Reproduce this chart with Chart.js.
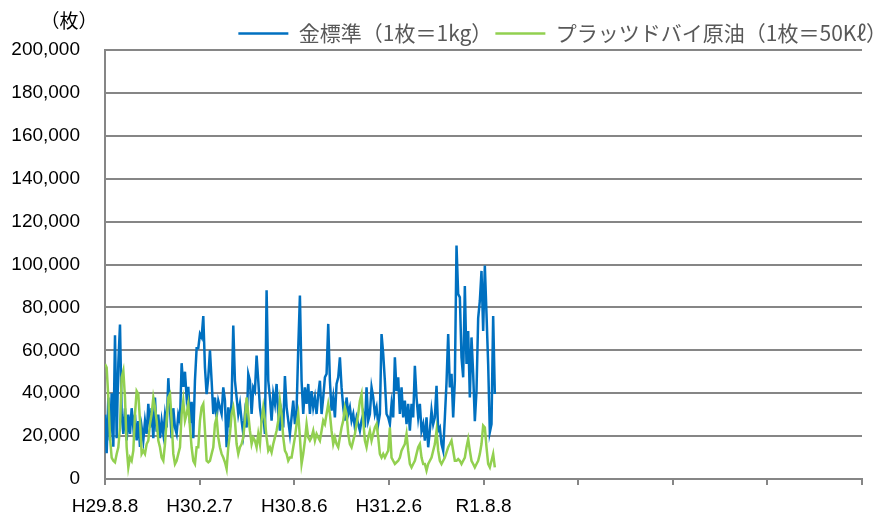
<!DOCTYPE html>
<html>
<head>
<meta charset="utf-8">
<script src="https://cdn.jsdelivr.net/npm/chart.js@4.4.1/dist/chart.umd.min.js"></script>
<style>
  html, body { margin: 0; padding: 0; background: #fff; }
</style>
</head>
<body>
<canvas id="line-chart" width="890" height="519"></canvas>
<script>
// tick labels along the date axis (one every ~6 months), the rest of the axis is empty
const tickLabels = ['H29.8.8', 'H30.2.7', 'H30.8.6', 'H31.2.6', 'R1.8.8', '', '', '', ''];
const samplesPerTick = 56.8;

// daily volume (lots)
const goldLots = [
  30000, 12000, 38000, 18000, 40000, 15000, 67000, 19000, 54000, 72000,
  30000, 21000, 33000, 18000, 30000, 21000, 33000, 24000, 30000, 18000,
  27000, 15000, 24000, 18000, 27000, 21000, 35000, 24000, 33000, 19000,
  38000, 22000, 30000, 19000, 27000, 21000, 30000, 24000, 47000, 33000,
  19000, 33000, 24000, 21000, 30000, 27000, 54000, 43000, 50000, 38000,
  43000, 26000, 36000, 19000, 46000, 61000,
  61000, 67600, 66000, 76000, 52000, 39600, 47400, 60000, 45800, 30300,
  38000, 28700, 36500, 33400, 30300, 42700, 36500, 14800, 33400, 24000,
  36500, 71500, 45800, 38000, 30300, 35000, 27200, 21000, 30300, 24000,
  49000, 45800, 30300, 42700, 41000, 57500, 45800, 33400, 27200, 30300,
  21000, 88000, 45800, 38000, 27200, 39600, 35000, 44300, 30300, 22500,
  30300, 24000, 48000, 33400, 27200, 21000,
  28700, 36500, 25600, 31900, 61000, 85500, 45800, 30300, 42700, 35000,
  44300, 30300, 41000, 33400, 38000, 30300, 39600, 45800, 30300, 38000,
  47400, 49000, 72300, 45800, 31900, 38000, 28700, 44300, 47400, 56700,
  42700, 33400, 27200, 38000, 30300, 33400, 27200, 30300, 24000, 28700,
  25600, 22500, 27200, 30300, 24000, 42700, 27200, 30300, 42700, 38000,
  30300, 33400, 25600, 30300, 67600, 58300, 45800, 30300, 28700,
  25600, 35000, 28700, 56700, 41000, 47400, 30300, 42700, 28700, 36500,
  25600, 35000, 22500, 35000, 28700, 52800, 38000, 28700, 35000, 22500,
  25600, 17900, 28700, 14800, 22500, 31900, 25600, 28700, 43500, 22500,
  24000, 16300, 13200, 28700, 45000, 67600, 42700, 49000, 28700, 45800,
  108800, 86200, 84700, 56700, 47400, 90000, 53600, 69000, 38000, 66000,
  49000, 27000, 41000, 75000, 83000, 97000, 69000, 99500, 77000, 53600,
  21800, 25600, 76000, 39600
];

const dubaiLots = [
  53600, 52000, 38000, 19400, 10000, 8500, 7800, 11700, 14800, 24000,
  47400, 50500, 38000, 14800, 5400, 10000, 8500, 13200, 30300, 41000,
  39600, 27200, 11700, 13200, 11700, 16300, 17900, 25600, 30300, 38000,
  33400, 27200, 17900, 14800, 10000, 8500, 16300, 27200, 38000, 39600,
  27200, 11700, 7000, 8500, 11700, 14800, 30300, 36500, 27200, 30300,
  35000, 24000, 14800, 8500, 7000, 14800,
  14800, 27200, 33400, 35000, 22500, 8500, 7800, 8500, 11700, 14800,
  25600, 28700, 19400, 14800, 11700, 10000, 7800, 4700, 14800, 21000,
  30300, 33400, 27200, 16300, 11700, 14800, 16300, 19400, 27200, 38000,
  30300, 22500, 16300, 19400, 17900, 14800, 21000, 16300, 27200, 33400,
  27200, 19400, 13200, 14800, 12400, 16300, 19400, 22500, 27200, 36500,
  30300, 19400, 13200, 11700, 8500, 10000,
  10000, 14800, 19400, 25600, 30300, 19400, 7000, 11700, 17900, 25600,
  19400, 17900, 19400, 22500, 17900, 21000, 19400, 17900, 22500, 27200,
  25600, 30300, 35000, 30300, 22500, 16300, 19400, 16300, 14800, 19400,
  24000, 27200, 33400, 30300, 21000, 16300, 14800, 17900, 21000, 25600,
  30300, 36500, 39600, 27200, 17900, 14800, 19400, 22500, 17900, 21000,
  24000, 25600, 19400, 11700, 10000, 11700, 10000, 11700, 13200,
  24000, 10000, 8500, 7000, 7800, 8500, 10000, 13200, 14800, 16300,
  21000, 13200, 7000, 5400, 7000, 8500, 11700, 14800, 16300, 10000,
  7000, 7000, 3900, 7000, 8500, 10000, 13200, 16300, 22500, 13200,
  8500, 7000, 8500, 10000, 12400, 14800, 16300, 17900, 13200, 8500,
  8500, 9300, 8500, 7000, 8500, 10000, 14800, 18600, 13200, 8500,
  7000, 5400, 7000, 8500, 11700, 16300, 24900, 24000, 14800, 7000,
  5400, 8500, 11700, 5400
];

const axisGray = '#868686';
const tickFont = { family: '"Liberation Sans", Arial, sans-serif', size: 19 };

const unitLabel = {
  id: 'unitLabel',
  afterDraw(chart) {
    const ctx = chart.ctx;
    ctx.save();
    ctx.font = '19px "Noto Sans CJK JP"';
    ctx.fillStyle = '#000';
    ctx.textAlign = 'center';
    ctx.textBaseline = 'middle';
    ctx.fillText('（枚）', 69, 21);
    ctx.restore();
  }
};

new Chart(document.getElementById('line-chart'), {
  type: 'line',
  data: {
    datasets: [{
        label: '金標準（1枚＝1kg）',
        data: goldLots.map((v, i) => ({ x: i, y: v })),
        borderColor: '#0070C0',
        backgroundColor: '#0070C0',
        borderWidth: 2.5,
        pointRadius: 0,
        fill: false,
        order: 1
      }, {
        label: 'プラッツドバイ原油（1枚＝50Kℓ）',
        data: dubaiLots.map((v, i) => ({ x: i, y: v })),
        borderColor: '#92D050',
        backgroundColor: '#92D050',
        borderWidth: 2.5,
        pointRadius: 0,
        fill: false,
        order: 0
      }]
  },
  options: {
    responsive: false,
    animation: false,
    layout: { padding: { top: 20, right: 0, bottom: 0, left: 0 } },
    plugins: {
      tooltip: { enabled: false },
      legend: {
        align: 'end',
        maxHeight: 30,
        labels: {
          usePointStyle: true,
          pointStyle: 'line',
          pointStyleWidth: 50,
          padding: 3,
          color: '#595959',
          font: { family: '"Noto Sans CJK JP"', size: 21 },
          sort: (a, b) => a.datasetIndex - b.datasetIndex
        }
      }
    },
    scales: {
      x: {
        type: 'linear',
        min: 0,
        max: samplesPerTick * (tickLabels.length - 1),
        afterBuildTicks: scale => {
          scale.ticks = tickLabels.map((t, k) => ({ value: k * samplesPerTick }));
        },
        afterFit: scale => {
          scale.paddingRight = 28;
          scale.height = 40;
        },
        grid: { drawOnChartArea: false, drawTicks: true, tickLength: 6, color: axisGray, lineWidth: 2 },
        border: { color: axisGray, width: 2 },
        ticks: {
          autoSkip: false,
          maxRotation: 0,
          padding: 10,
          color: '#000',
          font: tickFont,
          callback: (v, i) => tickLabels[i]
        }
      },
      y: {
        min: 0,
        max: 200000,
        afterFit: scale => { scale.width = 105; },
        grid: { drawTicks: false, color: axisGray, lineWidth: 2 },
        border: { color: axisGray, width: 2 },
        ticks: {
          stepSize: 20000,
          padding: 25,
          color: '#000',
          font: tickFont,
          callback: v => v.toLocaleString('en-US')
        }
      }
    }
  },
  plugins: [unitLabel]
});
</script>
</body>
</html>
